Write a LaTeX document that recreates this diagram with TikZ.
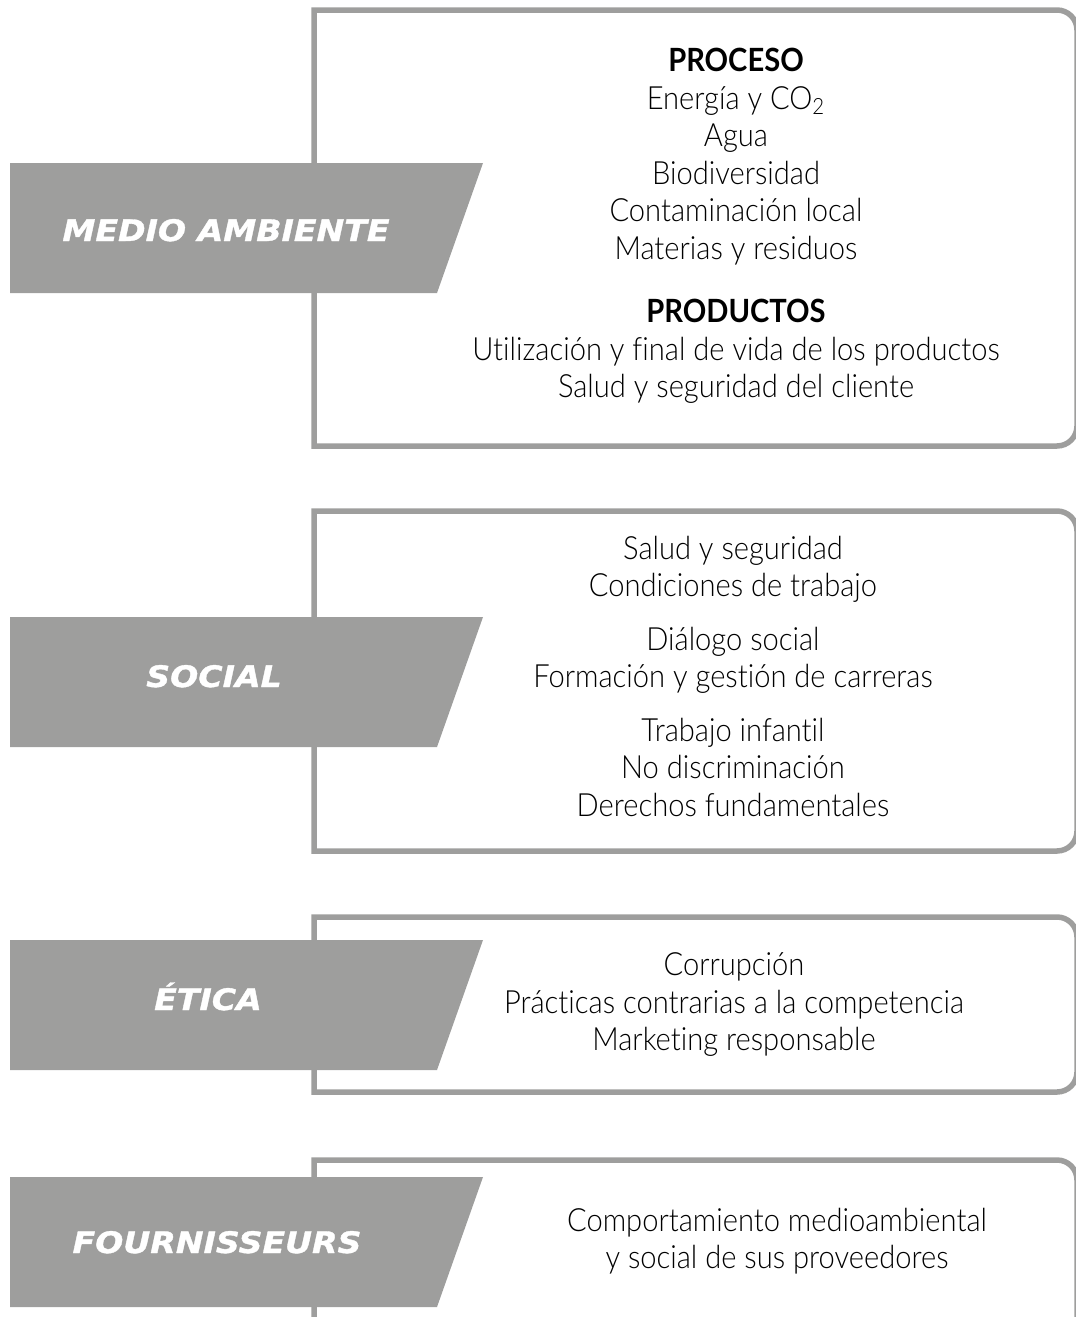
\documentclass[tikz,border=0pt]{standalone}
\usepackage{fontspec}
\setmainfont{Lato}[UprightFont={* Light}, BoldFont={* Bold}, FakeStretch=0.91, Ligatures=NoCommon]
\newfontfamily\tabfont{DejaVu Sans}[FakeStretch=1.12, BoldItalicFeatures={FakeBold=1.2}]
\usepackage{tikz}
\definecolor{tabgray}{RGB}{158,158,157}
\tikzset{
	tablabel/.style={font=\tabfont\bfseries\itshape\fontsize{14.8}{17}\selectfont, text=white, anchor=base, inner sep=0},
	topiclist/.style={font=\fontsize{16}{18.75}\selectfont, align=center, inner sep=0},
}
\def\topicbox(#1:#2){\draw[line width=2.75pt, color=tabgray] (314,#2) -- (314,#1) -- (1057,#1) arc[start angle=270, end angle=360, radius=20] -- (1077,#2-20) arc[start angle=0, end angle=90, radius=20] -- cycle;}
\def\topictab(#1){\fill[tabgray] (10,#1) -- (483,#1) -- (437,#1+130) -- (10,#1+130) -- cycle;}

\begin{document}
\begin{tikzpicture}[x=0.5pt, y=-0.5pt]
			%%%%% START %%%%%
			\useasboundingbox (0,0) rectangle (1076,1317);
			\clip (0,0) rectangle (1076,1317);
			
			\topicbox(10:446)
			\topicbox(511:851)
			\topicbox(917:1092)
			\topicbox(1160:1380)
			
			\topictab(163)
			\topictab(617)
			\topictab(940)
			\topictab(1177)
			
			\node[tablabel] (envtab) at (226, 241) {MEDIO AMBIENTE};
			\node[tablabel] (soctab) at (214, 687) {SOCIAL};
			\node[tablabel] (ethtab) at (208, 1010) {ÉTICA};
			\node[tablabel] (suptab) at (217, 1253) {FOURNISSEURS};
			
			\node[topiclist] (envlist) at (736, 226) {\textbf{PROCESO}\\ Energía y CO\textsubscript{2}\\ Agua\\ Biodiversidad\\ Contaminación local\\ Materias y residuos\\[13pt] \textbf{PRODUCTOS}\\ Utilización y final de vida de los productos\\ Salud y seguridad del cliente};
			
			\node[topiclist] (soclist) at (733, 676) {Salud y seguridad\\ Condiciones de trabajo\\[8pt] Diálogo social\\ Formación y gestión de carreras\\[8pt] Trabajo infantil\\ No discriminación\\ Derechos fundamentales};
			
			\node[topiclist] (ethlist) at (734, 1005) {Corrupción\\ Prácticas contrarias a la competencia\\ Marketing responsable};
			
			\node[topiclist] (suplist) at (777, 1241) {Comportamiento medioambiental\\ y social de sus proveedores};
			%%%%% END %%%%%
\end{tikzpicture}
\end{document}
